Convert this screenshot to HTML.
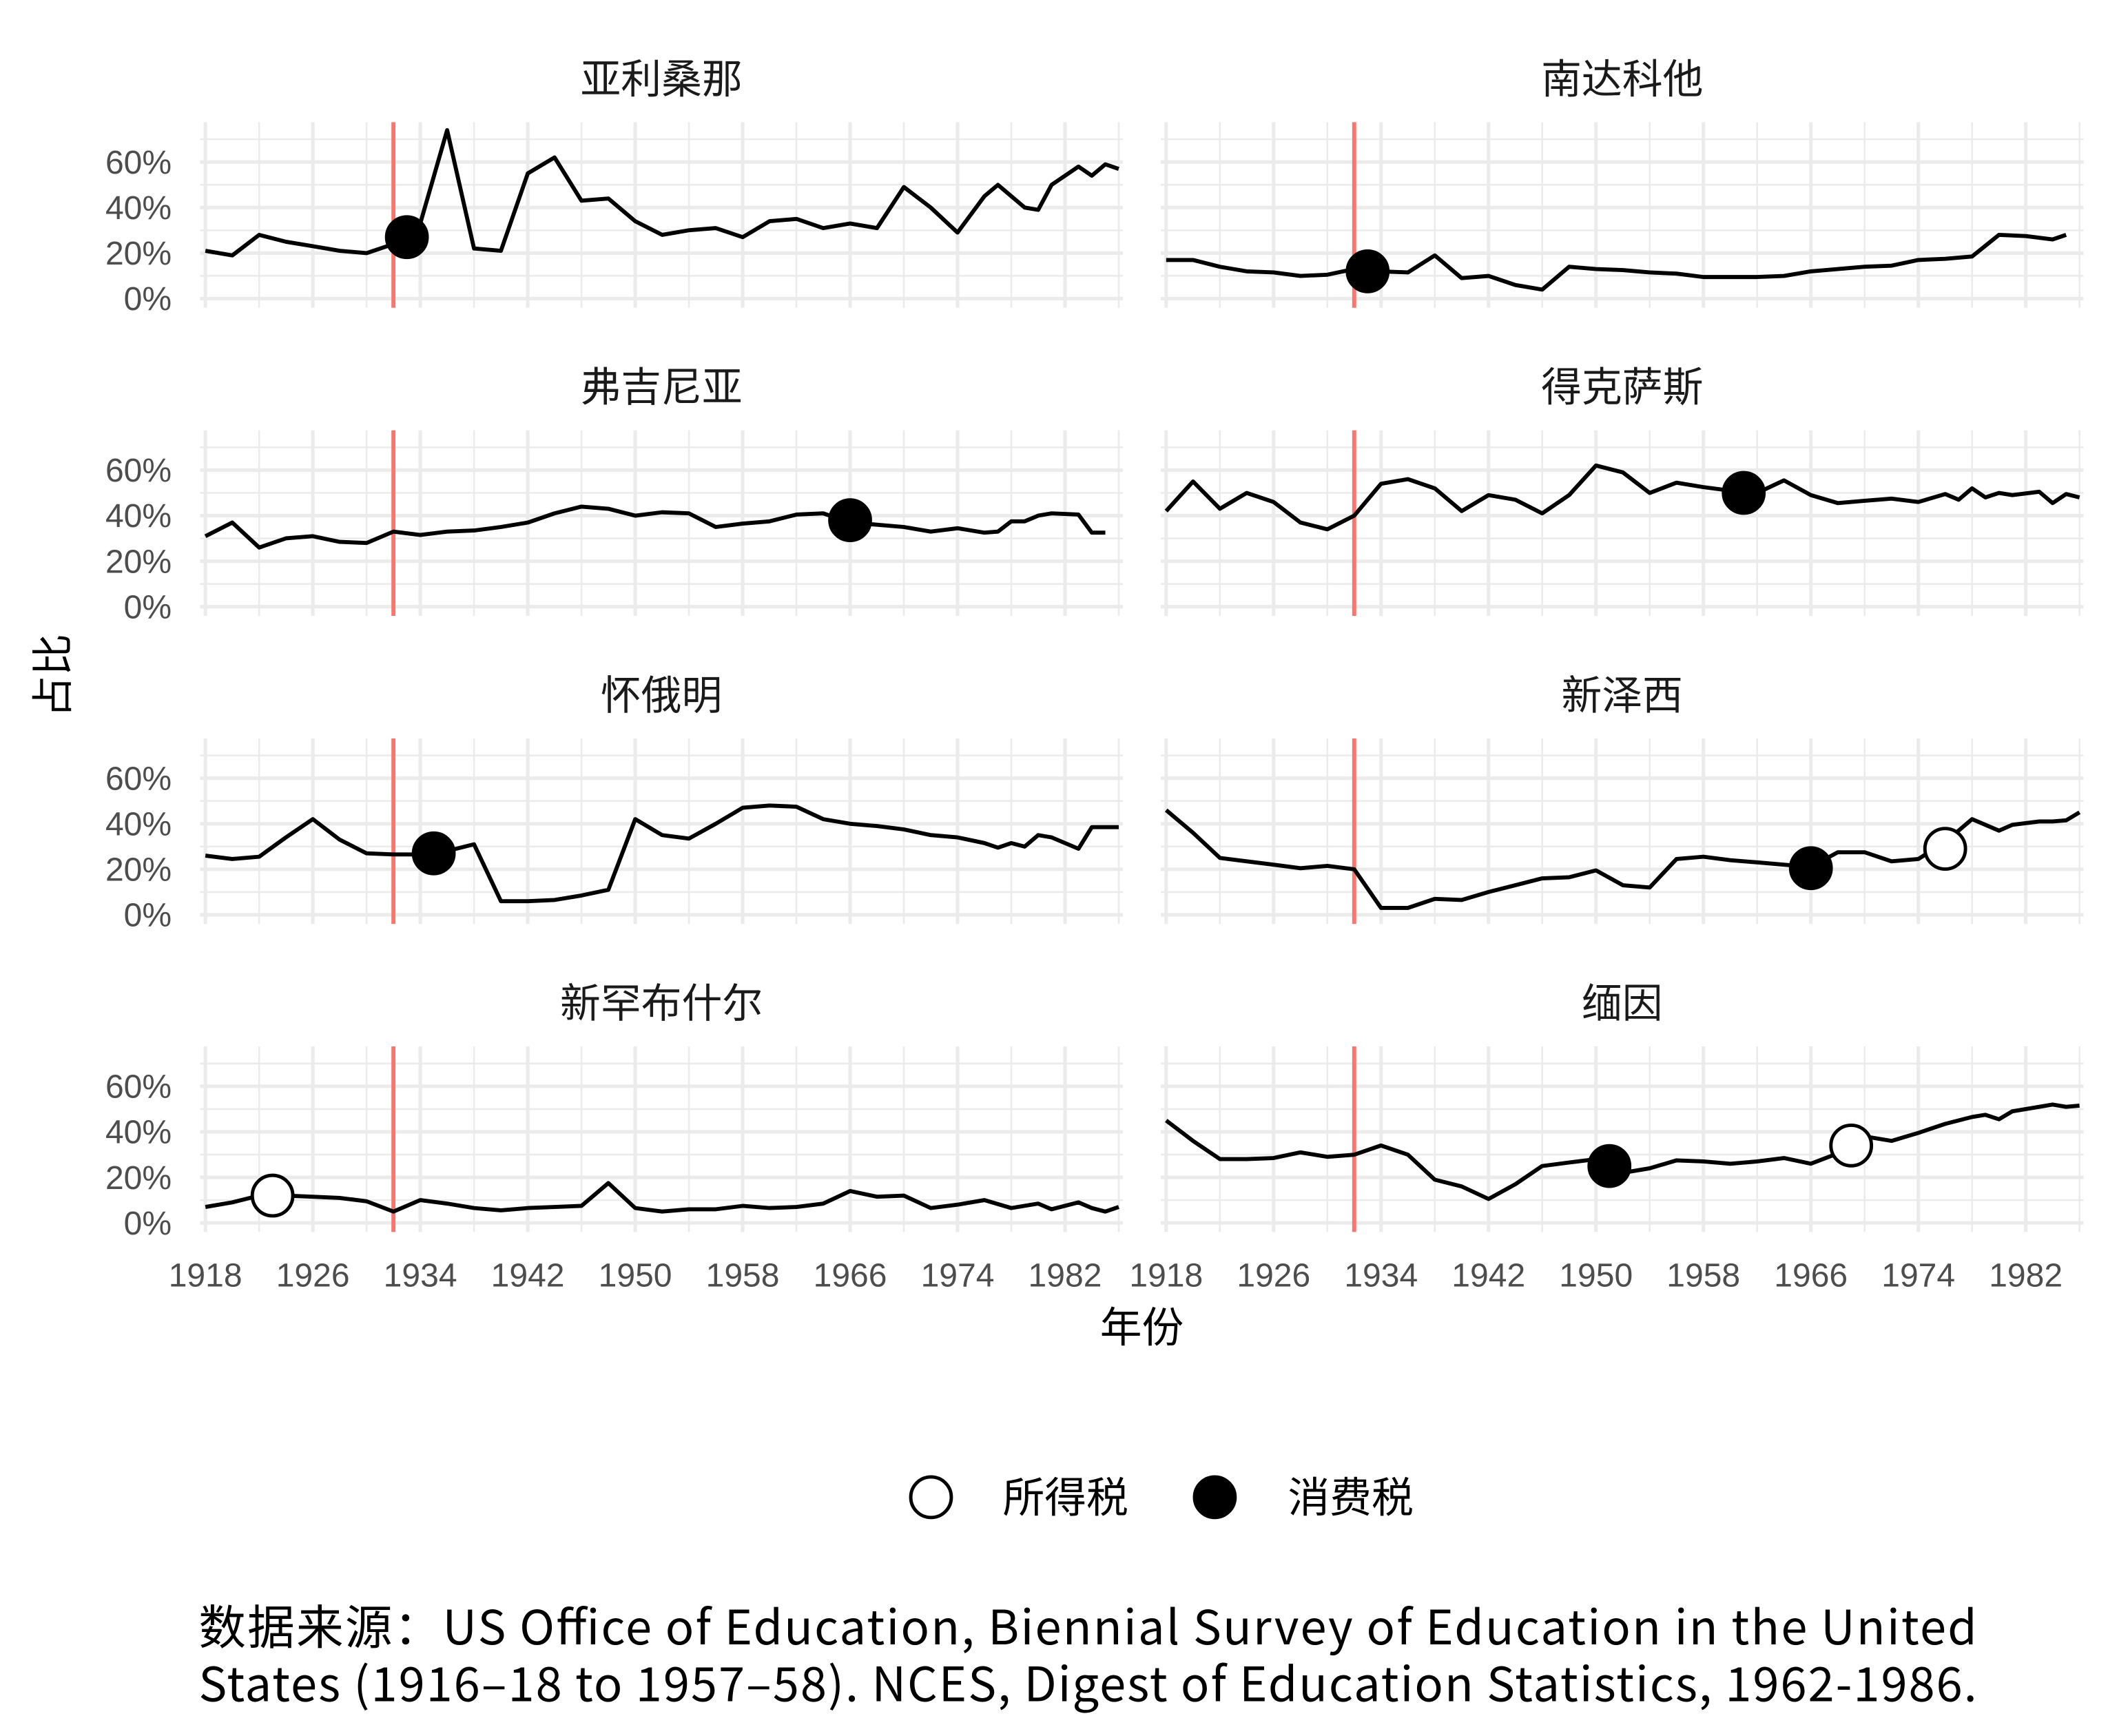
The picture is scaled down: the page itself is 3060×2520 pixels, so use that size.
<!DOCTYPE html>
<html><head><meta charset="utf-8">
<style>
html,body{margin:0;padding:0;background:#fff;}
svg{display:block;}
text{font-family:"Liberation Sans","Noto Sans CJK SC",sans-serif;}
.cjk{font-family:"Noto Sans CJK SC","Liberation Sans",sans-serif;}
</style></head>
<body>
<svg id="chart" width="3060" height="2520" viewBox="0 0 1560 1284.7" xmlns="http://www.w3.org/2000/svg">
<g id="panels"></g>
<text class="cjk" x="50" y="500" font-size="31" text-anchor="middle" transform="rotate(-90 50 500)" fill="#000">占比</text>
<text class="cjk" x="845" y="993" font-size="31" text-anchor="middle" fill="#000">年份</text>
<g>
<circle cx="689" cy="1108" r="15" fill="#fff" stroke="#000" stroke-width="2.5"/>
<text class="cjk" x="742" y="1119" font-size="31">所得税</text>
<circle cx="899" cy="1108" r="15" fill="#000" stroke="#000" stroke-width="2.5"/>
<text class="cjk" x="953" y="1119" font-size="31">消费税</text>
</g>
<text class="cjk" font-size="35" fill="#000" x="147" y="1217" textLength="1316" lengthAdjust="spacing">数据来源：US Office of Education, Biennial Survey of Education in the United</text>
<text class="cjk" font-size="35" fill="#000" x="147" y="1259" textLength="1316" lengthAdjust="spacing">States (1916–18 to 1957–58). NCES, Digest of Education Statistics, 1962-1986.</text>
</svg>
<script>
const panelNames = ["亚利桑那","南达科他","弗吉尼亚","得克萨斯","怀俄明","新泽西","新罕布什尔","缅因"];
const panelKeys = ["arizona","south-dakota","virginia","texas","wyoming","new-jersey","new-hampshire","maine"];
const yTicks = [0,20,40,60];
const yTickLabels = ["0%","20%","40%","60%"];
const xTicks = [1918,1926,1934,1942,1950,1958,1966,1974,1982];
const adoptionYear = 1932;

const azYears=[1918,1920,1922,1924,1926,1928,1930,1932,1934,1936,1938,1940,1942,1944,1946,1948,1950,1952,1954,1956,1958,1960,1962,1964,1966,1968,1970,1972,1974,1976,1977,1979,1980,1981,1983,1984,1985,1986];
const azVals=[21,19,28,25,23,21,20,24,33,74,22,21,55,62,43,44,34,28,30,31,27,34,35,31,33,31,49,40,29,45,50,40,39,50,58,54,59,57];
const sdYears=[1918,1920,1922,1924,1926,1928,1930,1932,1934,1936,1938,1940,1942,1944,1946,1948,1950,1952,1954,1956,1958,1960,1962,1964,1966,1968,1970,1972,1974,1976,1978,1980,1982,1984,1985];
const sdVals=[17,17,14,12,11.5,10,10.5,13,12,11.5,19,9,10,6,4,14,13,12.5,11.5,11,9.5,9.5,9.5,10,12,13,14,14.5,17,17.5,18.5,28,27.5,26,28];
const vaYears=[1918,1920,1922,1924,1926,1928,1930,1932,1934,1936,1938,1940,1942,1944,1946,1948,1950,1952,1954,1956,1958,1960,1962,1964,1966,1968,1970,1972,1974,1976,1977,1978,1979,1980,1981,1983,1984,1985];
const vaVals=[31,37,26,30,31,28.5,28,33,31.5,33,33.5,35,37,41,44,43,40,41.5,41,35,36.5,37.5,40.5,41,37,36,35,33,34.5,32.5,33,37.5,37.5,40,41,40.5,32.5,32.5];
const txYears=[1918,1920,1922,1924,1926,1928,1930,1932,1934,1936,1938,1940,1942,1944,1946,1948,1950,1952,1954,1956,1958,1960,1962,1964,1966,1968,1970,1972,1974,1976,1977,1978,1979,1980,1981,1983,1984,1985,1986];
const txVals=[42,55,43,50,46,37,34,40,54,56,52,42,49,47,41,49,62,59,50,54.5,52.5,51,50,55.5,49,45.5,46.5,47.5,46,49.5,47,52,48,50,49,50.5,45.5,49.5,48];
const wyYears=[1918,1920,1922,1924,1926,1928,1930,1932,1934,1936,1938,1940,1942,1944,1946,1948,1950,1952,1954,1956,1958,1960,1962,1964,1966,1968,1970,1972,1974,1976,1977,1978,1979,1980,1981,1983,1984,1986];
const wyVals=[26,24.5,25.5,34,42,33,27,26.5,26.5,28,31,6,6,6.5,8.5,11,42,35,33.5,40,47,48,47.5,42,40,39,37.5,35,34,31.5,29.5,31.5,30,35,34,29,38.5,38.5];
const njYears=[1918,1920,1922,1924,1926,1928,1930,1932,1934,1936,1938,1940,1942,1944,1946,1948,1950,1952,1954,1956,1958,1960,1962,1964,1966,1968,1970,1972,1974,1976,1978,1980,1981,1983,1984,1985,1986];
const njVals=[46,36,25,23.5,22,20.5,21.5,20,3,3,7,6.5,10,13,16,16.5,19.5,13,12,24.5,25.5,24,23,22,21,27.5,27.5,23.5,24.5,32,42,37,39.5,41,41,41.5,45];
const nhYears=[1918,1920,1922,1924,1926,1928,1930,1932,1934,1936,1938,1940,1942,1944,1946,1948,1950,1952,1954,1956,1958,1960,1962,1964,1966,1968,1970,1972,1974,1976,1978,1980,1981,1983,1984,1985,1986];
const nhVals=[7,9,12,12,11.5,11,9.5,5,10,8.5,6.5,5.5,6.5,7,7.5,17.5,6.5,5,6,6,7.5,6.5,7,8.5,14,11.5,12,6.5,8,10,6.5,8.5,6,9,6.5,5,7];
const meYears=[1918,1920,1922,1924,1926,1928,1930,1932,1934,1936,1938,1940,1942,1944,1946,1948,1950,1952,1954,1956,1958,1960,1962,1964,1966,1968,1970,1972,1974,1976,1978,1979,1980,1981,1983,1984,1985,1986];
const meVals=[45,36,28,28,28.5,31,29,30,34,30,19,16,10.5,17,25,26.5,28,22,24,27.5,27,26,27,28.5,26,30.5,38,36,39.5,43.5,46.5,47.5,45.5,49,51,52,51,51.5];

const seriesYears=[azYears,sdYears,vaYears,txYears,wyYears,njYears,nhYears,meYears];
const seriesVals=[azVals,sdVals,vaVals,txVals,wyVals,njVals,nhVals,meVals];
const markerYears=[[1933],[1933],[1966],[1961],[1935],[1966,1976],[1923],[1951,1969]];
const markerVals=[[27],[12],[38],[50],[27],[20.5,29],[12],[25,34]];
const markerTypes=[[1],[1],[1],[1],[1],[1,0],[0],[1,0]];

const NS="http://www.w3.org/2000/svg";
const root=document.getElementById("panels");
function mk(tag,attrs,parent){const e=document.createElementNS(NS,tag);for(const k in attrs)e.setAttribute(k,attrs[k]);parent.appendChild(e);return e;}
const colX0=[152,863], pxPerYear=9.94, yearMin=1917.6, yearMax=1986.3;
const zeroY=[221,449,677,905], pxPerPct=1.685, pctMin=-4, pctMax=77.5;

for(let p=0;p<8;p++){
  const col=p%2,row=Math.floor(p/2);
  const xs=y=>colX0[col]+(y-1918)*pxPerYear;
  const ys=v=>zeroY[row]-v*pxPerPct;
  const g=mk("g",{},root);
  
  
  const L=xs(yearMin),R=xs(yearMax),T=ys(pctMax),B=ys(pctMin);
  for(let v=10;v<=70;v+=20) mk("line",{x1:L,x2:R,y1:ys(v),y2:ys(v),stroke:"#ebebeb","stroke-width":1.3},g);
  for(let yr=1922;yr<=1986;yr+=8) mk("line",{x1:xs(yr),x2:xs(yr),y1:T,y2:B,stroke:"#ebebeb","stroke-width":1.3},g);
  for(const v of yTicks) mk("line",{x1:L,x2:R,y1:ys(v),y2:ys(v),stroke:"#ebebeb","stroke-width":2.6},g);
  for(const yr of xTicks) mk("line",{x1:xs(yr),x2:xs(yr),y1:T,y2:B,stroke:"#ebebeb","stroke-width":2.6},g);
  const t=mk("text",{class:"cjk",x:(L+R)/2,y:ys(0)-152,"font-size":30,"text-anchor":"middle",fill:"#1a1a1a"},g);
  t.textContent=panelNames[p];
  
  
  if(col===0){
    yTicks.forEach((v,i)=>{const tl=mk("text",{x:127,y:ys(v)+8.5,"font-size":24.5,"text-anchor":"end",fill:"#4d4d4d"},g);tl.textContent=yTickLabels[i];
      
      });
  }
  if(row===3){
    xTicks.forEach(yr=>{if(col===1&&yr>1982)return;const tl=mk("text",{x:xs(yr),y:952,"font-size":24.5,"text-anchor":"middle",fill:"#4d4d4d"},g);tl.textContent=yr;
      
      });
  }
  const rl=mk("line",{x1:xs(adoptionYear),x2:xs(adoptionYear),y1:T,y2:B,stroke:"#f8766d","stroke-width":3},g);
  
  
  const pts=seriesYears[p].map((yr,i)=>xs(yr).toFixed(1)+","+ys(seriesVals[p][i]).toFixed(1)).join(" ");
  const pl=mk("polyline",{points:pts,fill:"none",stroke:"#000","stroke-width":3,"stroke-linejoin":"round"},g);
  
  
  markerYears[p].forEach((yr,i)=>{
    const c=mk("circle",{cx:xs(yr),cy:ys(markerVals[p][i]),r:15,fill:markerTypes[p][i]?"#000":"#fff",stroke:"#000","stroke-width":2.5},g);
    
    
  });
}
</script>
</body></html>
